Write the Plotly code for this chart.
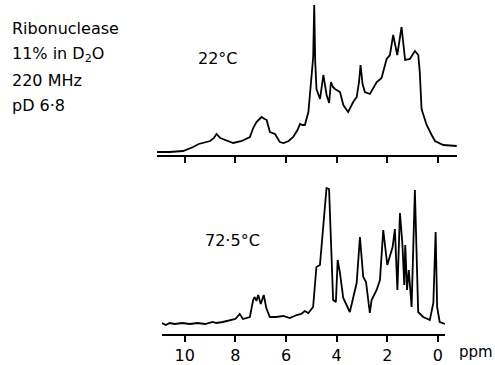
import plotly.graph_objects as go

# 22 °C spectrum (ppm, intensity)
top_ppm = [11.1, 10.6, 10.07, 9.85, 9.67, 9.45, 9.28, 9.0, 8.85, 8.75, 8.6, 8.3, 8.09, 7.75, 7.43,
           7.3, 7.17, 7.05, 6.97, 6.85, 6.77, 6.64, 6.44, 6.25, 6.1, 5.9, 5.72, 5.55, 5.45, 5.35,
           5.26, 5.12, 4.99, 4.93, 4.89, 4.85, 4.8, 4.66, 4.53, 4.45, 4.4, 4.3, 4.23, 4.15, 4.07,
           3.87, 3.74, 3.55, 3.35, 3.21, 3.12, 3.06, 2.98, 2.89, 2.69, 2.42, 2.23, 2.03, 1.9, 1.77,
           1.68, 1.61, 1.44, 1.3, 1.11, 0.91, 0.78, 0.72, 0.65, 0.45, 0.25, 0.12, -0.21, -0.74]
top_int = [0, 0, 1, 3, 5, 8, 9, 11, 14, 18, 14, 11, 9, 11, 15,
           24, 30, 33, 35, 33, 32, 20, 18, 10, 9, 11, 15, 22, 28, 27,
           27, 40, 73, 95, 147, 90, 63, 53, 77, 65, 57, 49, 70, 65, 63,
           60, 47, 40, 50, 55, 70, 87, 68, 60, 58, 70, 74, 93, 97, 117,
           105, 97, 125, 92, 93, 101, 97, 80, 43, 27, 17, 11, 7, 6]

# 72.5 °C spectrum (ppm, intensity)
bot_ppm = [10.9, 10.75, 10.6, 10.4, 10.1, 9.8, 9.5, 9.2, 8.9, 8.75, 8.5, 8.22, 8.0, 7.83, 7.7,
           7.43, 7.3, 7.24, 7.17, 7.1, 7.0, 6.88, 6.78, 6.64, 6.4, 6.11, 5.85, 5.58, 5.4, 5.26,
           5.12, 4.93, 4.8, 4.66, 4.53, 4.4, 4.3, 4.2, 4.14, 4.03, 3.96, 3.87, 3.74, 3.48, 3.21,
           3.08, 2.95, 2.84, 2.69, 2.62, 2.42, 2.29, 2.16, 2.0, 1.79, 1.7, 1.6, 1.5, 1.4, 1.33,
           1.29, 1.22, 1.15, 1.04, 0.91, 0.78, 0.58, 0.32, 0.18, 0.09, 0.03, -0.07, -0.28]
bot_int = [1, -1, 1, 0, 1, 0, 1, 0, 2, 1, 2, 4, 5, 10, 5,
           7, 24, 27, 23, 29, 20, 29, 16, 7, 7, 8, 6, 9, 10, 13,
           11, 17, 57, 59, 101, 136, 135, 67, 24, 22, 64, 51, 26, 12, 41,
           87, 47, 42, 11, 24, 34, 44, 94, 59, 77, 95, 34, 111, 79, 39,
           79, 34, 54, 17, 134, 12, 7, 4, 21, 92, 17, 2, 0]

tick_vals = [10, 8, 6, 4, 2, 0]
tick_text = ["10", "8", "6", "4", "2", "0"]
info_lines = ["Ribonuclease", "11% in D<sub>2</sub>O", "220 MHz", "pD 6·8"]
temps = ["22°C", "72·5°C"]

W, H = 495, 365
FONT = "DejaVu Sans"

fig = go.Figure()
fig.add_trace(go.Scatter(x=top_ppm, y=top_int, mode="lines", xaxis="x", yaxis="y",
                         line=dict(color="black", width=1.8), showlegend=False, hoverinfo="skip"))
fig.add_trace(go.Scatter(x=bot_ppm, y=bot_int, mode="lines", xaxis="x2", yaxis="y2",
                         line=dict(color="black", width=1.8), showlegend=False, hoverinfo="skip"))

axis_common = dict(showline=True, linecolor="black", linewidth=2, ticks="outside",
                   ticklen=6, tickwidth=1.5, tickcolor="black", showgrid=False,
                   zeroline=False, tickvals=tick_vals, ticktext=tick_text)

fig.update_layout(
    width=W, height=H,
    margin=dict(l=0, r=0, t=0, b=0),
    paper_bgcolor="white", plot_bgcolor="white",
    font=dict(family=FONT, color="black"),
    xaxis=dict(domain=[157 / W, 457 / W], range=[11.1, -0.75], anchor="y",
               showticklabels=False, **axis_common),
    yaxis=dict(domain=[1 - 155 / H, 1 - 5 / H], range=[-3, 147], visible=False),
    xaxis2=dict(domain=[162 / W, 445 / W], range=[10.9, -0.28], anchor="y2",
                showticklabels=True, tickfont=dict(size=16, family=FONT), **axis_common),
    yaxis2=dict(domain=[1 - 334 / H, 1 - 186 / H], range=[-10, 138], visible=False),
)

line_y = [28, 55, 81, 106]
for txt, yp in zip(info_lines, line_y):
    fig.add_annotation(text=txt, xref="paper", yref="paper", x=10 / W, y=1 - yp / H,
                       xanchor="left", yanchor="middle", showarrow=False,
                       font=dict(size=16, family=FONT))

fig.add_annotation(text=temps[0], xref="paper", yref="paper", x=218 / W, y=1 - 58 / H,
                   xanchor="center", yanchor="middle", showarrow=False, font=dict(size=16, family=FONT))
fig.add_annotation(text=temps[1], xref="paper", yref="paper", x=232 / W, y=1 - 241 / H,
                   xanchor="center", yanchor="middle", showarrow=False, font=dict(size=16, family=FONT))
fig.add_annotation(text="ppm", xref="paper", yref="paper", x=476 / W, y=1 - 352 / H,
                   xanchor="center", yanchor="middle", showarrow=False, font=dict(size=15, family=FONT))

fig.write_html("out.html", config={"displayModeBar": False},
               post_script="document.body.style.margin='0';document.body.style.overflow='hidden';")
